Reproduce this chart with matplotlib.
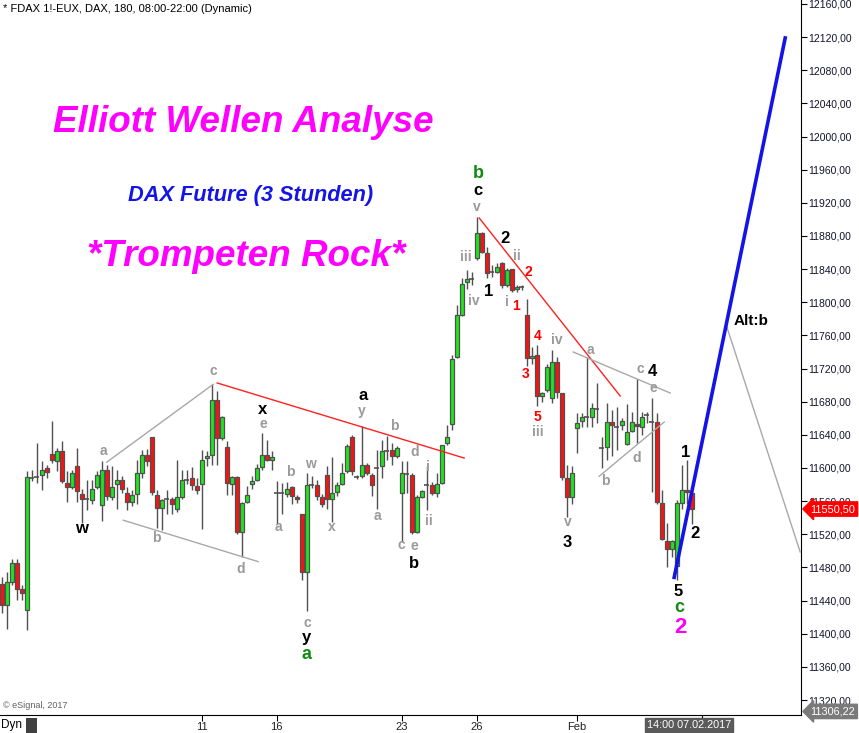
import matplotlib
matplotlib.use("Agg")
import matplotlib.pyplot as plt
from matplotlib.patches import Rectangle

plt.rcParams['font.family'] = ['Liberation Sans', 'DejaVu Sans']

# 3h candles FDAX, bar index 0 = first bar on screen
opens = [11460, 11435, 11463, 11485, 11454, 11429, 11589, 11588, 11591, 11600,
         11617, 11608, 11620, 11582, 11577, 11603, 11569, 11561, 11561, 11577,
         11555, 11598, 11565, 11581, 11585, 11570, 11559, 11569, 11594, 11616,
         11637, 11568, 11552, 11562, 11562, 11550, 11565, 11586, 11588, 11578,
         11581, 11612, 11616, 11682, 11636, 11625, 11581, 11589, 11523, 11559,
         11581, 11586, 11601, 11616, 11610, 11570, 11570, 11569, 11577, 11565,
         11544, 11474, 11580, 11579, 11565, 11592, 11562, 11571, 11581, 11596,
         11637, 11590, 11590, 11604, 11592, 11599, 11602, 11621, 11622, 11614,
         11570, 11594, 11592, 11523, 11565, 11580, 11580, 11570, 11582, 11630,
         11653, 11734, 11785, 11824, 11828, 11853, 11883, 11859, 11837, 11837,
         11848, 11821, 11840, 11816, 11818, 11785, 11733, 11736, 11687, 11694,
         11685, 11728, 11691, 11588, 11565, 11648, 11657, 11661, 11661, 11671,
         11624, 11625, 11655, 11650, 11652, 11629, 11645, 11653, 11650, 11664,
         11655, 11655, 11558, 11512, 11502, 11482, 11558, 11574, 11570]
highs = [11468, 11475, 11490, 11490, 11459, 11596, 11598, 11630, 11608, 11604,
         11657, 11624, 11633, 11596, 11598, 11624, 11575, 11585, 11585, 11596,
         11608, 11604, 11602, 11597, 11590, 11577, 11573, 11610, 11622, 11623,
         11638, 11574, 11563, 11574, 11565, 11610, 11598, 11598, 11601, 11588,
         11622, 11621, 11701, 11693, 11663, 11632, 11590, 11590, 11559, 11578,
         11590, 11605, 11642, 11634, 11620, 11584, 11582, 11583, 11578, 11567,
         11544, 11594, 11590, 11586, 11569, 11602, 11613, 11583, 11606, 11629,
         11640, 11592, 11651, 11606, 11594, 11622, 11634, 11639, 11630, 11626,
         11609, 11608, 11594, 11568, 11574, 11602, 11583, 11594, 11628, 11652,
         11736, 11797, 11829, 11839, 11837, 11903, 11885, 11867, 11845, 11848,
         11849, 11841, 11840, 11821, 11821, 11804, 11746, 11749, 11692, 11726,
         11742, 11734, 11691, 11604, 11602, 11666, 11666, 11734, 11679, 11702,
         11638, 11679, 11670, 11674, 11660, 11677, 11667, 11708, 11668, 11668,
         11685, 11666, 11573, 11534, 11513, 11561, 11604, 11610, 11571]
lows = [11425, 11406, 11459, 11441, 11441, 11405, 11584, 11582, 11574, 11588,
        11606, 11596, 11582, 11559, 11575, 11559, 11534, 11549, 11557, 11575,
        11536, 11561, 11561, 11551, 11570, 11549, 11554, 11557, 11588, 11602,
        11567, 11527, 11525, 11545, 11545, 11547, 11563, 11581, 11574, 11569,
        11526, 11602, 11604, 11604, 11634, 11567, 11567, 11520, 11493, 11558,
        11575, 11584, 11598, 11608, 11598, 11533, 11545, 11565, 11557, 11558,
        11465, 11427, 11576, 11561, 11553, 11551, 11535, 11566, 11579, 11594,
        11592, 11587, 11588, 11592, 11566, 11551, 11588, 11610, 11604, 11612,
        11511, 11570, 11520, 11521, 11564, 11549, 11567, 11565, 11581, 11628,
        11646, 11733, 11783, 11816, 11821, 11851, 11859, 11829, 11831, 11835,
        11817, 11819, 11813, 11813, 11815, 11723, 11726, 11675, 11680, 11692,
        11678, 11684, 11586, 11541, 11557, 11618, 11650, 11650, 11650, 11654,
        11600, 11610, 11614, 11622, 11646, 11628, 11643, 11630, 11640, 11654,
        11571, 11557, 11513, 11481, 11493, 11465, 11551, 11557, 11533]
closes = [11435, 11462, 11485, 11454, 11449, 11589, 11588, 11589, 11598, 11595,
          11610, 11620, 11584, 11577, 11594, 11572, 11562, 11562, 11575, 11591,
          11598, 11566, 11577, 11585, 11575, 11559, 11568, 11594, 11616, 11608,
          11571, 11552, 11561, 11562, 11557, 11565, 11586, 11586, 11580, 11574,
          11610, 11614, 11682, 11636, 11661, 11582, 11589, 11523, 11558, 11568,
          11584, 11600, 11616, 11610, 11613, 11570, 11570, 11575, 11566, 11562,
          11474, 11580, 11580, 11566, 11557, 11563, 11570, 11579, 11594, 11626,
          11596, 11589, 11604, 11594, 11579, 11600, 11620, 11621, 11614, 11624,
          11594, 11593, 11523, 11565, 11572, 11580, 11570, 11581, 11628, 11638,
          11732, 11785, 11822, 11828, 11828, 11883, 11861, 11835, 11837, 11842,
          11821, 11839, 11815, 11818, 11818, 11733, 11735, 11687, 11691, 11722,
          11728, 11692, 11589, 11565, 11594, 11654, 11661, 11661, 11673, 11671,
          11624, 11655, 11652, 11650, 11657, 11643, 11655, 11651, 11661, 11664,
          11655, 11559, 11514, 11502, 11512, 11558, 11574, 11571, 11550.5]

# date ticks (bar index of first bar of the day)
tick_bars = [40, 55, 80, 95, 115, 140]
tick_names = ['11', '16', '23', '26', 'Feb', '']

price_ticks = list(range(11320, 12161, 40))
last_price = 11550.50
low_marker = 11306.22

# trend lines (bar, price) pairs
red_lines = [[(43.1, 11702.6), (92.5, 11612.0)],
             [(95.5, 11901.7), (123.7, 11686.9)]]
gray_lines = [[(21.0, 11607.0), (42.3, 11701.0)],
              [(24.3, 11537.0), (51.3, 11487.0)],
              [(114.3, 11740.0), (133.7, 11690.5)],
              [(119.5, 11590.0), (132.5, 11655.5)],
              [(144.9, 11772.6), (159.7, 11498.6)]]
blue_line = [(134.5, 11468.0), (156.7, 12119.0)]

# wave labels: text, bar, price, colour, size
gray_c = '#9a9a9a'
labels = [
    ('a', 20.3, 11620, gray_c, 10), ('b', 30.9, 11515, gray_c, 10),
    ('c', 42.3, 11717, gray_c, 10), ('d', 47.7, 11478, gray_c, 10),
    ('e', 52.3, 11653, gray_c, 10), ('b', 57.7, 11595, gray_c, 10),
    ('a', 55.3, 11529, gray_c, 10), ('w', 61.7, 11605, gray_c, 10),
    ('x', 66.1, 11529, gray_c, 10), ('c', 61.1, 11413, gray_c, 10),
    ('y', 72.1, 11669, gray_c, 10), ('a', 75.1, 11542, gray_c, 10),
    ('b', 78.5, 11651, gray_c, 10), ('c', 79.9, 11507, gray_c, 10),
    ('e', 82.5, 11506, gray_c, 10), ('d', 82.5, 11619, gray_c, 10),
    ('i', 85.3, 11601, gray_c, 10), ('ii', 85.5, 11536, gray_c, 10),
    ('v', 95.1, 11915, gray_c, 10), ('iii', 92.9, 11855, gray_c, 10),
    ('iv', 94.5, 11802, gray_c, 10), ('ii', 103.1, 11856, gray_c, 10),
    ('i', 101.1, 11800, gray_c, 10), ('iv', 111.1, 11754, gray_c, 10),
    ('iii', 107.3, 11643, gray_c, 10), ('a', 117.7, 11742, gray_c, 10),
    ('c', 127.7, 11719, gray_c, 10), ('e', 130.3, 11696, gray_c, 10),
    ('b', 120.7, 11584, gray_c, 10), ('d', 126.9, 11612, gray_c, 10),
    ('v', 113.3, 11535, gray_c, 10),
    ('w', 15.9, 11527, 'black', 12), ('x', 52.1, 11670, 'black', 12),
    ('a', 72.3, 11688, 'black', 12), ('b', 82.5, 11485, 'black', 12),
    ('y', 60.9, 11396, 'black', 12), ('c', 95.3, 11935, 'black', 12),
    ('2', 100.7, 11877, 'black', 12), ('1', 97.3, 11813, 'black', 12),
    ('3', 113.1, 11510, 'black', 12), ('4', 130.1, 11716, 'black', 12),
    ('1', 136.7, 11619, 'black', 12), ('2', 138.7, 11521, 'black', 12),
    ('5', 135.3, 11451, 'black', 12), ('Alt:b', 149.9, 11778, 'black', 11),
    ('b', 95.3, 11956, '#138a13', 13), ('a', 60.9, 11375, '#138a13', 13),
    ('c', 135.5, 11432, '#138a13', 13),
    ('2', 105.3, 11836, '#ff0000', 10), ('1', 102.9, 11796, '#ff0000', 10),
    ('4', 107.1, 11759, '#ff0000', 10), ('3', 104.7, 11713, '#ff0000', 10),
    ('5', 107.1, 11662, '#ff0000', 10),
    ('2', 135.7, 11408, '#ff00ff', 16),
]

W, H = 859, 733
fig = plt.figure(figsize=(W / 100, H / 100), dpi=100)
ax = fig.add_axes([0, 18 / H, 801 / W, 715 / H])

# candles
edge = '#505050'
for i, (o, h, l, c) in enumerate(zip(opens, highs, lows, closes)):
    ax.vlines(i, l, h, color=edge, lw=1, zorder=2)
    col = '#1ee61e' if c > o else '#ff1010'
    if abs(c - o) < 1.5:
        ax.hlines(c, i - 0.45, i + 0.45, color=edge, lw=1.2, zorder=3)
    else:
        ax.bar(i, c - o, bottom=o, width=0.8, color=col, edgecolor=edge,
               linewidth=0.9, zorder=3)

for ln in red_lines:
    ax.plot([p[0] for p in ln], [p[1] for p in ln], color='#ff2020', lw=1, zorder=4)
for ln in gray_lines:
    ax.plot([p[0] for p in ln], [p[1] for p in ln], color='#a8a8a8', lw=1, zorder=4)
ax.plot([p[0] for p in blue_line], [p[1] for p in blue_line], color='#1414e6', lw=2.6, zorder=5)

for t, bx, py, col, fs in labels:
    ax.text(bx, py, t, color=col, fontsize=fs, fontweight='bold',
            ha='center', va='center', zorder=6)

ax.set_xlim(-0.34, 159.86)
ax.set_ylim(11301.9, 12164.8)

for s in ['left', 'top']:
    ax.spines[s].set_visible(False)
ax.spines['right'].set_color('black')
ax.spines['bottom'].set_color('black')

ax.yaxis.tick_right()
ax.set_yticks(price_ticks)
ax.set_yticklabels([f"{v:.2f}".replace('.', ',') for v in price_ticks])
ax.tick_params(axis='y', direction='out', length=4, width=0.8, pad=1,
               labelsize=7.5, labelcolor='#14142e', color='black')
ax.set_xticks(tick_bars)
ax.set_xticklabels(tick_names)
ax.tick_params(axis='x', direction='out', length=4, width=0.8, pad=1,
               labelsize=8, labelcolor='#202020')

# price markers on the right axis
trans = ax.get_yaxis_transform()
ax.text(1.012, last_price, f"{last_price:.2f}".replace('.', ','), transform=trans,
        color='white', fontsize=7.8, va='center', ha='left',
        bbox=dict(boxstyle='larrow,pad=0.2', fc='#ff0000', ec='#ff0000'), clip_on=False)
ax.text(1.012, low_marker, f"{low_marker:.2f}".replace('.', ','), transform=trans,
        color='white', fontsize=7.8, va='center', ha='left',
        bbox=dict(boxstyle='larrow,pad=0.2', fc='#7a7a7a', ec='#7a7a7a'), clip_on=False)

# header and titles
fig.text(3 / W, 1 - 9 / H, "* FDAX 1!-EUX, DAX, 180, 08:00-22:00 (Dynamic)",
         fontsize=8, va='center', ha='left', color='black')
fig.text(243 / W, 1 - 123 / H, "Elliott Wellen Analyse", color='#ff00ff',
         fontsize=26.5, fontweight='bold', style='italic', ha='center', va='center')
fig.text(251 / W, 1 - 195 / H, "DAX Future (3 Stunden)", color='#1414e6',
         fontsize=15.7, fontweight='bold', style='italic', ha='center', va='center')
fig.text(246 / W, 1 - 256 / H, "*Trompeten Rock*", color='#ff00ff',
         fontsize=26.5, fontweight='bold', style='italic', ha='center', va='center')

fig.text(3 / W, 1 - 705 / H, "\u00a9 eSignal, 2017", fontsize=6.5, color='#606060',
         va='center', ha='left')
fig.text(1 / W, 1 - 725 / H, "Dyn", fontsize=8.5, color='black', va='center', ha='left')
fig.patches.append(Rectangle((26 / W, 1 - 733 / H), 11 / W, 15 / H,
                             transform=fig.transFigure, fc='#404040', ec='none'))
fig.text(689 / W, 1 - 725 / H, "14:00 07.02.2017", fontsize=7.8, color='white',
         va='center', ha='center',
         bbox=dict(boxstyle='square,pad=0.2', fc='#5a5a5a', ec='#5a5a5a'))

fig.savefig('out.png', dpi=100)
